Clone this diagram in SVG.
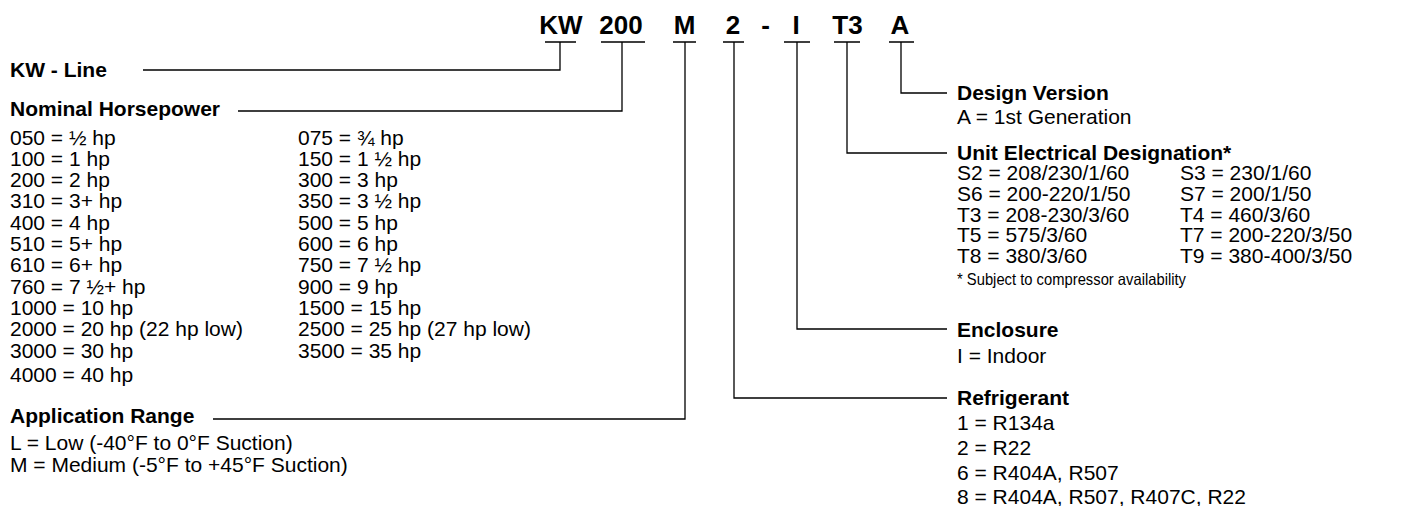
<svg xmlns="http://www.w3.org/2000/svg" width="1423" height="506" viewBox="0 0 1423 506">
<style>
text{font-family:"Liberation Sans",Arial,Helvetica,sans-serif;fill:#000}
.code{font-size:26px;font-weight:bold;text-anchor:middle}
.h{font-size:21px;font-weight:bold}
.t{font-size:21px}
.fn{font-size:16.5px}
.ln{fill:none;stroke:#000;stroke-width:1.3}
</style>
<rect width="1423" height="506" fill="#fff"/>
<g id="code">
<text class="code" x="561" y="34">KW</text>
<text class="code" x="621" y="34">200</text>
<text class="code" x="684.5" y="34">M</text>
<text class="code" x="733" y="34">2</text>
<text class="code" x="765.5" y="34">-</text>
<text class="code" x="796" y="34">I</text>
<text class="code" x="847.5" y="34">T3</text>
<text class="code" x="900" y="34">A</text>
</g>
<g id="connectors" class="ln">
<path d="M545 42H576M560 42V70H143"/>
<path d="M601 42H645M622 42V111H238"/>
<path d="M673 42H696M685 42V419H213"/>
<path d="M723 42H744M734 42V398H947"/>
<path d="M784 42H810M797 42V329H947"/>
<path d="M834 42H860M847 42V153H947"/>
<path d="M889 42H914M901 42V93H947"/>
</g>
<g id="kw-line">
<text class="h" x="10" y="77">KW - Line</text>
</g>
<g id="nominal-horsepower">
<text class="h" x="10" y="116">Nominal Horsepower</text>
<text class="t" x="10" y="144.5">050 = ½ hp</text>
<text class="t" x="10" y="165.8">100 = 1 hp</text>
<text class="t" x="10" y="187.1">200 = 2 hp</text>
<text class="t" x="10" y="208.4">310 = 3+ hp</text>
<text class="t" x="10" y="229.7">400 = 4 hp</text>
<text class="t" x="10" y="251">510 = 5+ hp</text>
<text class="t" x="10" y="272.3">610 = 6+ hp</text>
<text class="t" x="10" y="293.6">760 = 7 ½+ hp</text>
<text class="t" x="10" y="314.9">1000 = 10 hp</text>
<text class="t" x="10" y="336.2">2000 = 20 hp (22 hp low)</text>
<text class="t" x="10" y="357.5">3000 = 30 hp</text>
<text class="t" x="10" y="381.5">4000 = 40 hp</text>
<text class="t" x="298" y="144.5">075 = ¾ hp</text>
<text class="t" x="298" y="165.8">150 = 1 ½ hp</text>
<text class="t" x="298" y="187.1">300 = 3 hp</text>
<text class="t" x="298" y="208.4">350 = 3 ½ hp</text>
<text class="t" x="298" y="229.7">500 = 5 hp</text>
<text class="t" x="298" y="251">600 = 6 hp</text>
<text class="t" x="298" y="272.3">750 = 7 ½ hp</text>
<text class="t" x="298" y="293.6">900 = 9 hp</text>
<text class="t" x="298" y="314.9">1500 = 15 hp</text>
<text class="t" x="298" y="336.2">2500 = 25 hp (27 hp low)</text>
<text class="t" x="298" y="357.5">3500 = 35 hp</text>
</g>
<g id="application-range">
<text class="h" x="10" y="423">Application Range</text>
<text class="t" x="10" y="450">L = Low (-40°F to 0°F Suction)</text>
<text class="t" x="10" y="472">M = Medium (-5°F to +45°F Suction)</text>
</g>
<g id="design-version">
<text class="h" x="957" y="99.5">Design Version</text>
<text class="t" x="957" y="124">A = 1st Generation</text>
</g>
<g id="unit-electrical">
<text class="h" x="957" y="159.5">Unit Electrical Designation*</text>
<text class="t" x="957" y="180">S2 = 208/230/1/60</text>
<text class="t" x="957" y="201">S6 = 200-220/1/50</text>
<text class="t" x="957" y="221.5">T3 = 208-230/3/60</text>
<text class="t" x="957" y="242">T5 = 575/3/60</text>
<text class="t" x="957" y="263">T8 = 380/3/60</text>
<text class="t" x="1180" y="180">S3 = 230/1/60</text>
<text class="t" x="1180" y="201">S7 = 200/1/50</text>
<text class="t" x="1180" y="221.5">T4 = 460/3/60</text>
<text class="t" x="1180" y="242">T7 = 200-220/3/50</text>
<text class="t" x="1180" y="263">T9 = 380-400/3/50</text>
<text class="fn" x="957" y="285" textLength="229" lengthAdjust="spacingAndGlyphs">* Subject to compressor availability</text>
</g>
<g id="enclosure">
<text class="h" x="957" y="336.5">Enclosure</text>
<text class="t" x="957" y="363">I = Indoor</text>
</g>
<g id="refrigerant">
<text class="h" x="957" y="405">Refrigerant</text>
<text class="t" x="957" y="430">1 = R134a</text>
<text class="t" x="957" y="455">2 = R22</text>
<text class="t" x="957" y="480">6 = R404A, R507</text>
<text class="t" x="957" y="504">8 = R404A, R507, R407C, R22</text>
</g>
</svg>
